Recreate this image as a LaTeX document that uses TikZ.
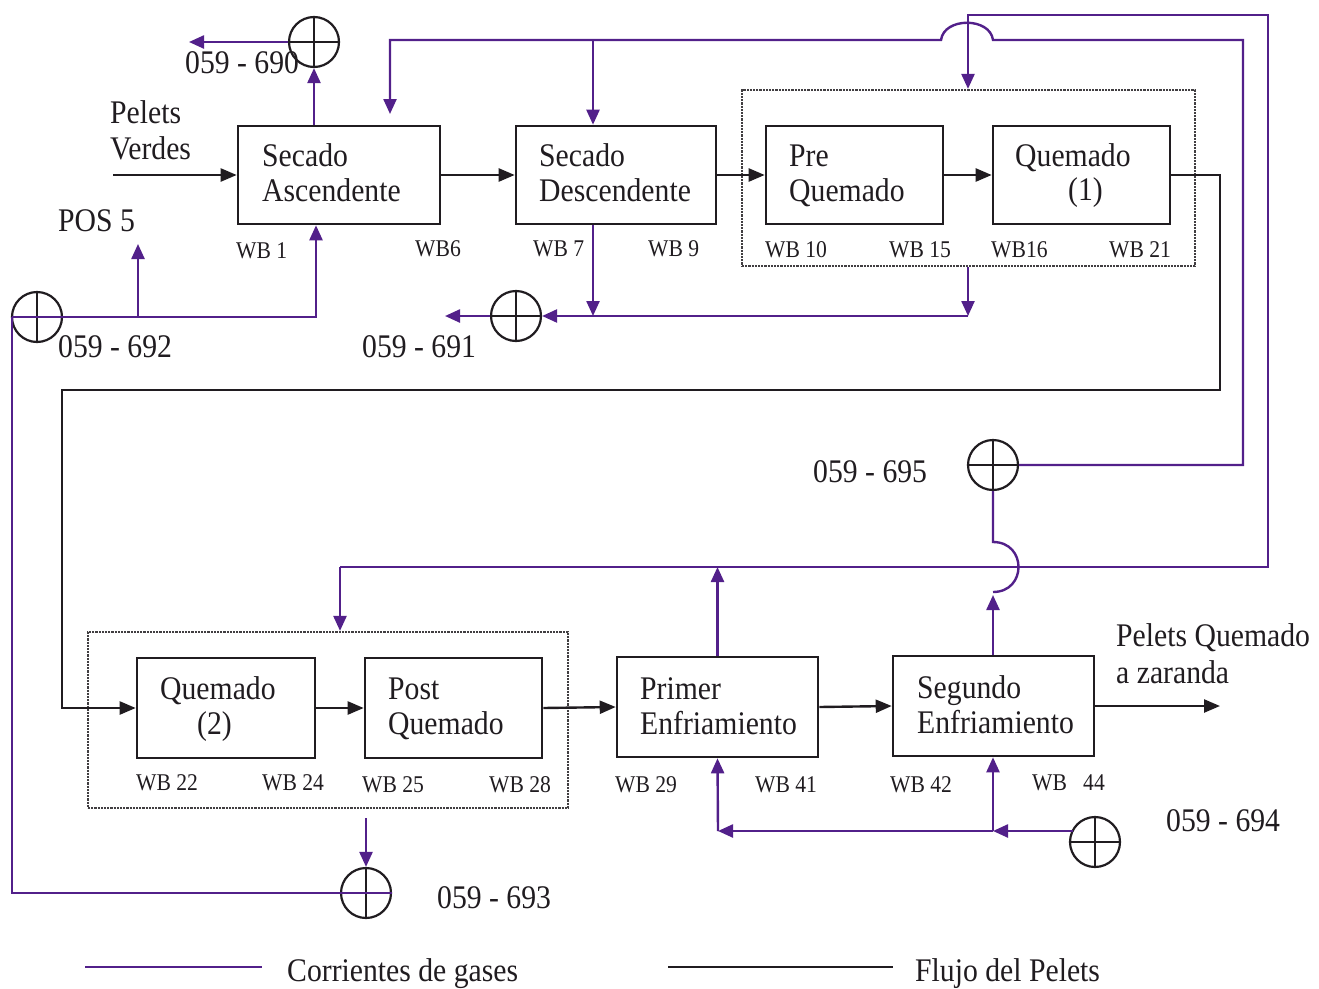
\documentclass[tikz,border=0pt]{standalone}
\usepackage{fontspec}
\setmainfont[FakeStretch=0.9]{Liberation Serif}
\usetikzlibrary{arrows.meta}
\definecolor{gas}{RGB}{82,32,138}
\definecolor{ink}{RGB}{32,28,32}
\tikzset{
  gasline/.style={draw=gas, line width=2.4pt},
  gastip/.style={-{Triangle[length=15pt,width=13pt]}},
  pflow/.style={draw=ink, line width=2.4pt, -{Triangle[length=16pt,width=13pt]}},
  pline/.style={draw=ink, line width=2.4pt},
  stage/.style={draw=ink, line width=2.6pt, rectangle, inner sep=0pt},
  zonebox/.style={draw=ink!85, line width=2.2pt, densely dotted, rectangle, inner sep=0pt},
  fan/.style={circle, draw=ink, line width=2.2pt, minimum size=50pt, inner sep=0pt,
    path picture={\draw[ink, line width=2.2pt]
      (path picture bounding box.north) -- (path picture bounding box.south)
      (path picture bounding box.west) -- (path picture bounding box.east);}},
  txt/.style={font=\fontsize{33}{36}\selectfont, text=ink, anchor=base west, inner sep=0pt},
  wblabel/.style={font=\fontsize{24}{26}\selectfont, text=ink, anchor=base west, inner sep=0pt},
}
\begin{document}
\begin{tikzpicture}[x=1pt,y=-1pt]
\useasboundingbox (0,0) rectangle (1319,988);

% ---------- process units ----------
\node[stage, minimum width=202pt, minimum height=98pt]  (b1) at (339,175) {};
\node[stage, minimum width=200pt, minimum height=98pt]  (b2) at (616,175) {};
\node[stage, minimum width=177pt, minimum height=98pt]  (b3) at (854.5,175) {};
\node[stage, minimum width=177pt, minimum height=98pt]  (b4) at (1081.5,175) {};
\node[stage, minimum width=178pt, minimum height=100pt] (b5) at (226,708) {};
\node[stage, minimum width=177pt, minimum height=100pt] (b6) at (453.5,708) {};
\node[stage, minimum width=201pt, minimum height=100pt] (b7) at (717.5,707) {};
\node[stage, minimum width=201pt, minimum height=100pt] (b8) at (993.5,706) {};

% burning zones
\node[zonebox, minimum width=453pt, minimum height=176pt] (z1) at (968.5,178) {};
\node[zonebox, minimum width=480pt, minimum height=176pt] (z2) at (328,720) {};

% unit texts
\node[txt] at (262,166) {Secado};
\node[txt] at (262,201) {Ascendente};
\node[txt] at (539,166) {Secado};
\node[txt] at (539,201) {Descendente};
\node[txt] at (789,166) {Pre};
\node[txt] at (789,201) {Quemado};
\node[txt] at (1015,166) {Quemado};
\node[txt] at (1068,200) {(1)};
\node[txt] at (160,699) {Quemado};
\node[txt] at (197,734) {(2)};
\node[txt] at (388,699) {Post};
\node[txt] at (388,734) {Quemado};
\node[txt] at (640,699) {Primer};
\node[txt] at (640,734) {Enfriamiento};
\node[txt] at (917,698) {Segundo};
\node[txt] at (917,733) {Enfriamiento};

% wind boxes
\node[wblabel] at (236,258) {WB 1};
\node[wblabel] at (415,256) {WB6};
\node[wblabel] at (533,256) {WB 7};
\node[wblabel] at (648,256) {WB 9};
\node[wblabel] at (765,257) {WB 10};
\node[wblabel] at (889,257) {WB 15};
\node[wblabel] at (991,257) {WB16};
\node[wblabel] at (1109,257) {WB 21};
\node[wblabel] at (136,790) {WB 22};
\node[wblabel] at (262,790) {WB 24};
\node[wblabel] at (362,792) {WB 25};
\node[wblabel] at (489,792) {WB 28};
\node[wblabel] at (615,792) {WB 29};
\node[wblabel] at (755,792) {WB 41};
\node[wblabel] at (890,792) {WB 42};
\node[wblabel] at (1032,790) {WB\ \ \ 44};

% other labels
\node[txt] at (110,123) {Pelets};
\node[txt] at (110,159) {Verdes};
\node[txt] at (58,231) {POS 5};
\node[txt] at (1116,646) {Pelets Quemado};
\node[txt] at (1116,683) {a zaranda};

% ---------- fans ----------
\node[fan] (f690) at (314,42) {};
\node[fan] (f691) at (516,316) {};
\node[fan] (f692) at (37,317) {};
\node[fan] (f693) at (366,893) {};
\node[fan] (f694) at (1095,842) {};
\node[fan] (f695) at (993,465) {};

\node[txt] at (185,73) {059 - 690};
\node[txt] at (362,357) {059 - 691};
\node[txt] at (58,357) {059 - 692};
\node[txt] at (437,908) {059 - 693};
\node[txt] at (1166,831) {059 - 694};
\node[txt] at (813,482) {059 - 695};

% ---------- pellet flow ----------
\coordinate (pin)  at (113,175);
\coordinate (pc1)  at (1220,175);
\coordinate (pc2)  at (1220,390);
\coordinate (pc3)  at (62,390);
\coordinate (pout) at (1220,706);
\draw[pflow] (pin) -- (b1.west);
\draw[pflow] (b1.east) -- (b2.west);
\draw[pflow] (b2.east) -- (b3.west);
\draw[pflow] (b3.east) -- (b4.west);
\draw[pflow] (b4.east) -- (pc1) -- (pc2) -- (pc3) -- (pc3 |- b5.west) -- (b5.west);
\draw[pflow] (b5.east) -- (b6.west);
\draw[pflow] (b6.east) -- (b7.west);
\draw[pflow] (b7.east) -- (b8.west);
\draw[pflow] (b8.east) -- (pout);

% ---------- gas streams ----------
% drying exhaust through 059-690
\coordinate (o690) at (189,42);
\draw[gasline,gastip] (b1.north -| f690) -- (f690.south);
\draw[gasline,gastip] (f690.west) -- (o690);

% 059-695 return to the drying units
\coordinate (r1) at (1243,465);
\coordinate (r2) at (1243,40);
\coordinate (r3) at (993,40);
\coordinate (r4) at (941,40);
\coordinate (r5) at (390,40);
\coordinate (r6) at (390,114);
\coordinate (r7) at (593,40);
\draw[gasline,gastip] (f695.east) -- (r1) -- (r2) -- (r3)
  .. controls (990,17) and (944,17) .. (r4) -- (r5) -- (r6);
\draw[gasline,gastip] (r7) -- (r7 |- b2.north);

% first cooling hot air to the burning zones
\coordinate (h1) at (718,567);
\coordinate (h2) at (1268,567);
\coordinate (h3) at (1268,15);
\coordinate (h4) at (968,15);
\coordinate (h5) at (340,567);
\draw[gasline,gastip] (b7.north) -- (b7.north |- h1);
\draw[gasline,gastip] (h5) -- (h2) -- (h3) -- (h4) -- (h4 |- z1.north);
\draw[gasline,gastip] (h5) -- (h5 |- z2.north);

% second cooling exhaust to 059-695, jumping over the 567 line
\coordinate (s1) at (993,595);
\coordinate (s2) at (993,592);
\coordinate (s3) at (993,542);
\draw[gasline,gastip] (b8.north -| s1) -- (s1);
\draw[gasline] (s2) .. controls (1027,592) and (1027,542) .. (s3) -- (f695.south);

% burning zone exhaust through 059-691
\coordinate (k1) at (968,316);
\coordinate (k2) at (593,316);
\coordinate (o691) at (445,316);
\draw[gasline,gastip] (z1.south -| k1) -- (k1);
\draw[gasline,gastip] (k1) -- (f691.east);
\draw[gasline,gastip] (b2.south -| k2) -- (k2);
\draw[gasline,gastip] (f691.west) -- (o691);

% 059-692 to updraft drying, fed by 059-693
\coordinate (u1) at (12,317);
\coordinate (u2) at (316,317);
\coordinate (u3) at (138,317);
\coordinate (u4) at (138,244);
\coordinate (u5) at (12,893);
\coordinate (d1) at (366,818);
\draw[gasline,gastip] (u1) -- (u2) -- (u2 |- b1.south);
\draw[gasline,gastip] (u3) -- (u4);
\draw[gasline] (u1) -- (u5) -- (f693.east);
\draw[gasline,gastip] (d1) -- (f693.north);

% cooling air from 059-694
\coordinate (a1) at (1073,831);
\coordinate (a2) at (993,831);
\coordinate (a3) at (718,831);
\draw[gasline,gastip] (a1) -- (a2);
\draw[gasline,gastip] (a2) -- (a3);
\draw[gasline,gastip] (a3) -- (b7.south);
\draw[gasline,gastip] (a2) -- (a2 |- b8.south);

% ---------- legend ----------
\coordinate (lg1) at (85,967);
\coordinate (lg2) at (262,967);
\coordinate (lp1) at (668,967);
\coordinate (lp2) at (893,967);
\draw[gasline] (lg1) -- (lg2);
\draw[pline] (lp1) -- (lp2);
\node[txt] at (287,981) {Corrientes de gases};
\node[txt] at (915,981) {Flujo del Pelets};
\end{tikzpicture}
\end{document}
